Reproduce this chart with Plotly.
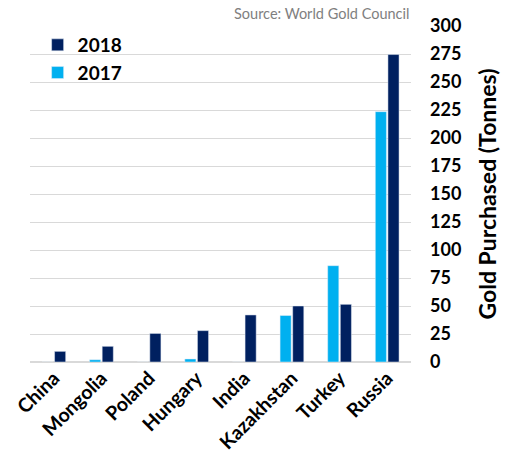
import plotly.graph_objects as go

countries = ["China", "Mongolia", "Poland", "Hungary", "India", "Kazakhstan", "Turkey", "Russia"]
v2017 = [0, 2, 0, 2.7, 0, 41.5, 86, 223.5]
v2018 = [9.5, 14, 25.5, 28, 42, 50, 51.5, 274.5]
yticks = list(range(0, 301, 25))

FONT = "Lato"
fig = go.Figure()
fig.add_trace(go.Bar(x=countries, y=v2017, name="2017", marker=dict(color="#00B0F0")))
fig.add_trace(go.Bar(x=countries, y=v2018, name="2018", marker=dict(color="#002060")))

fig.update_layout(
    width=511, height=459,
    margin=dict(l=30, r=100, t=26, b=97),
    plot_bgcolor="white", paper_bgcolor="white",
    barmode="group", bargap=0.47, bargroupgap=0.12,
    font=dict(family=FONT, color="black"),
    showlegend=True,
    legend=dict(x=0.02, y=1.0, xanchor="left", yanchor="top",
                traceorder="reversed", font=dict(size=19, family=FONT, weight="bold"),
                bgcolor="rgba(0,0,0,0)", itemwidth=30, tracegroupgap=6),
    xaxis=dict(tickangle=-45, tickfont=dict(size=19.5, family=FONT, weight="bold"),
               showgrid=False, showline=False, ticks="", automargin=False),
    yaxis=dict(side="right", range=[0, 300], tickvals=yticks, automargin=False,
               tickfont=dict(size=18, family=FONT, weight="bold"),
               showgrid=True, gridcolor="#d9d9d9", gridwidth=1,
               zeroline=True, zerolinecolor="#d9d9d9", zerolinewidth=1.5,
               ticklabelstandoff=18,
               title=dict(text="Gold Purchased (Tonnes)", standoff=19,
                          font=dict(size=23, family=FONT, weight="bold"))),
    annotations=[dict(text="Source: World Gold Council", x=1, xref="paper", y=1.005, yref="paper",
                      xanchor="right", yanchor="bottom", showarrow=False,
                      font=dict(size=14.5, color="#808080", family=FONT))],
)
fig.write_html("out.html")
